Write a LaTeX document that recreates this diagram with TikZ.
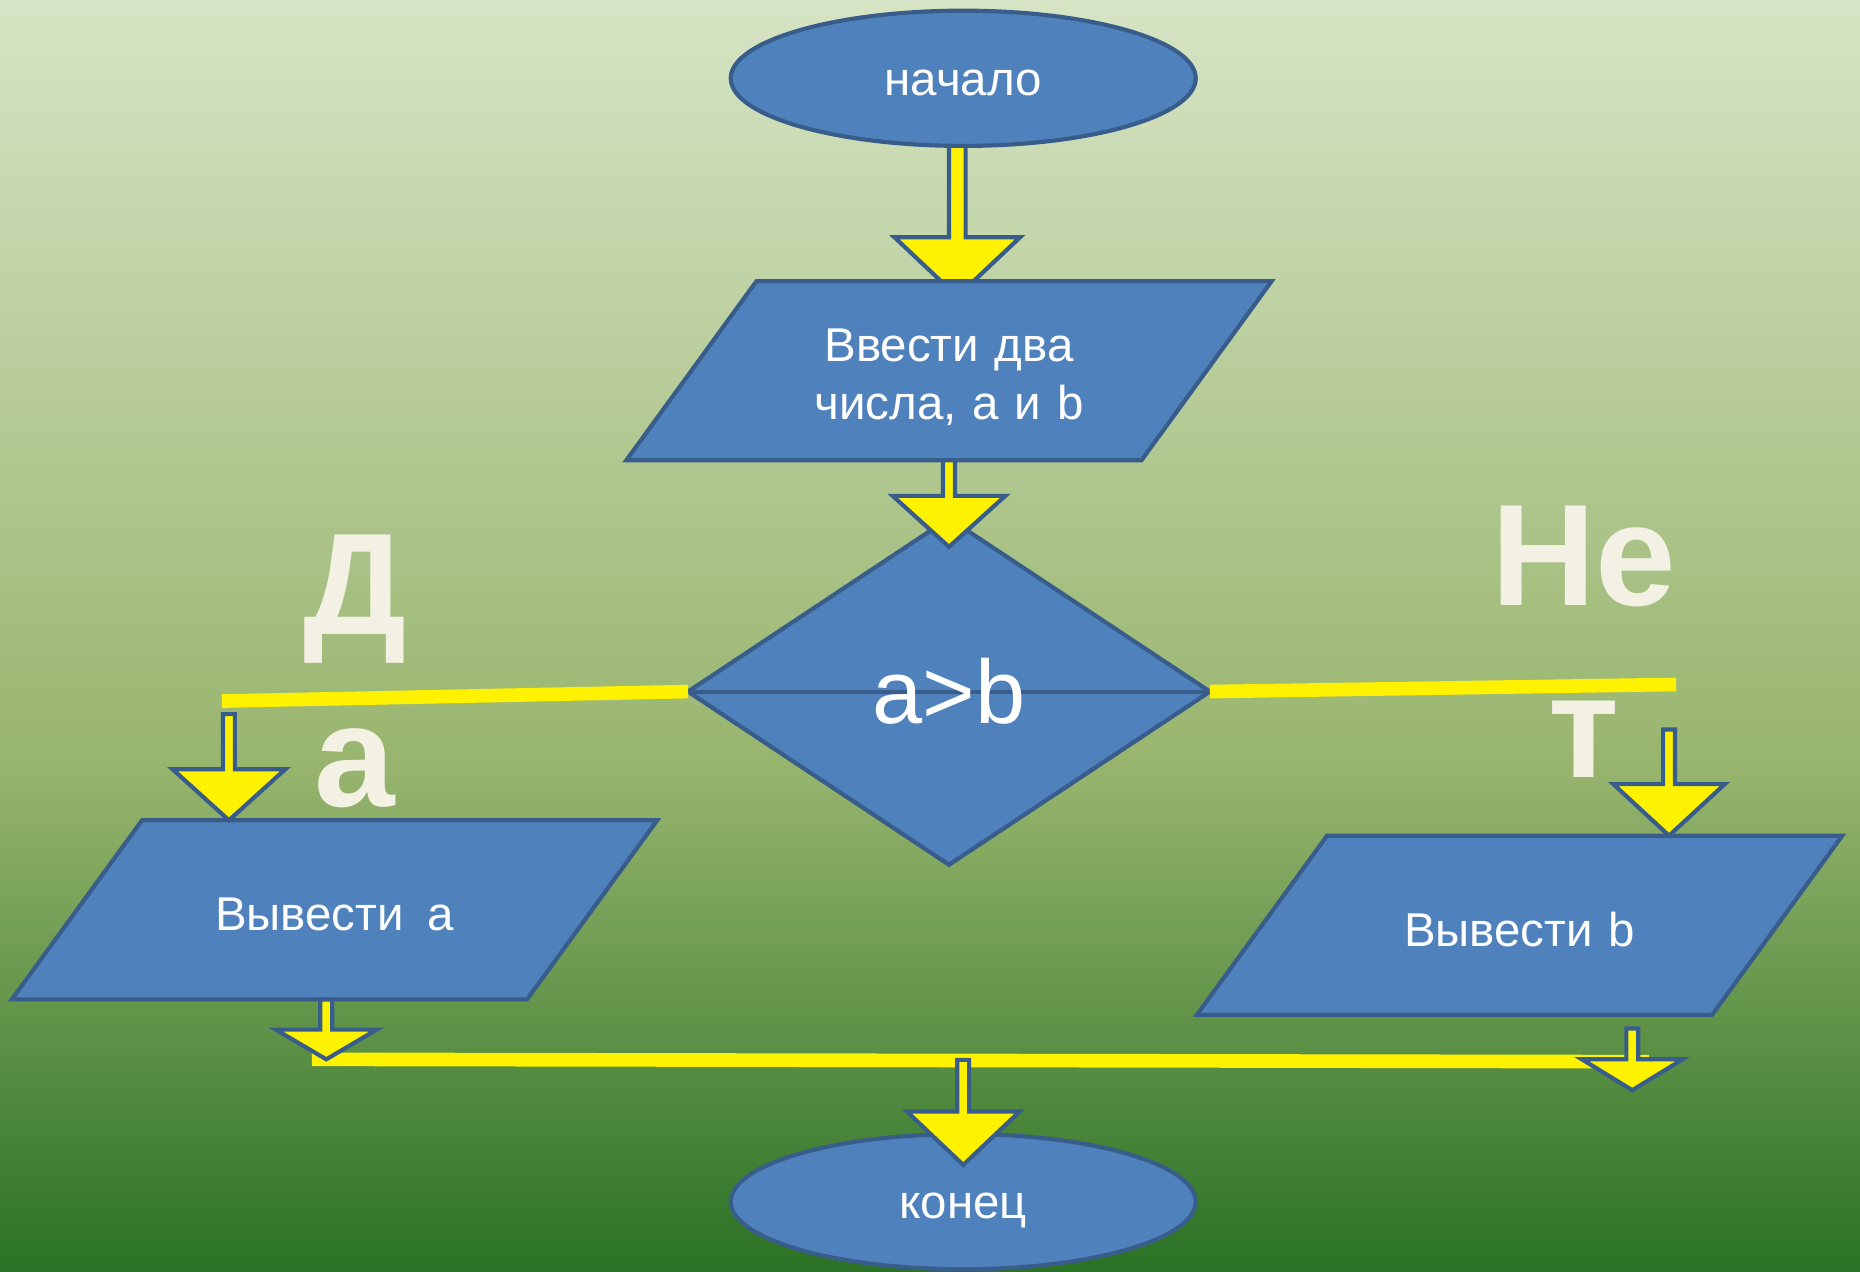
\documentclass[tikz,border=0pt]{standalone}
\usepackage{fontspec}
\setmainfont{Liberation Sans}
\usetikzlibrary{positioning,shapes.geometric,calc}
\pgfdeclarelayer{bg}
\pgfdeclarelayer{under}
\pgfsetlayers{bg,under,main}

\definecolor{bgtop}{RGB}{215,228,197}
\definecolor{bgmid}{RGB}{152,181,110}
\definecolor{bgbot}{RGB}{42,114,37}
\definecolor{shapefill}{HTML}{4F81BD}
\definecolor{shapeline}{HTML}{385D8A}
\definecolor{answertext}{HTML}{F3F0E4}

% block arrow: shaft half width, head half width, head length, from, to
\newcommand\flowarrow[5]{%
  \draw[flow] let \p1=#4, \p2=#5 in
    (\x1-#1*0.5pt,\y1) -- (\x1-#1*0.5pt,\y2+#3*0.5pt) -- (\x1-#2*0.5pt,\y2+#3*0.5pt) -- (\x1,\y2)
    -- (\x1+#2*0.5pt,\y2+#3*0.5pt) -- (\x1+#1*0.5pt,\y2+#3*0.5pt) -- (\x1+#1*0.5pt,\y1) -- cycle;}

\begin{document}
\begin{tikzpicture}
[x=0.5pt,y=-0.5pt,
 every node/.style={draw=shapeline,fill=shapefill,line width=1.75pt,inner sep=0pt,outer sep=0pt,text=white,font=\fontsize{20}{24.5}\selectfont},
 term/.style={ellipse,minimum width=196pt,minimum height=57pt,text height=14.4pt,text depth=0pt},
 io/.style={trapezium,trapezium left angle=54,trapezium right angle=126,text width=162.3pt,align=center},
 cond/.style={diamond,minimum width=220pt,minimum height=146pt,font=\fontsize{38}{40}\selectfont,
   path picture={\draw[shapeline,line width=1.75pt] (path picture bounding box.west) -- (path picture bounding box.east);}},
 answer/.style={draw=none,fill=none,text=answertext,align=center,font=\fontsize{61}{72.5}\selectfont\bfseries},
 yline/.style={yellow,line width=5.75pt},
 flow/.style={fill=yellow,draw=shapeline,line width=1.75pt}]
\path[use as bounding box] (0,0) rectangle (1568,1071.5);
\begin{pgfonlayer}{bg}
\shade[top color=bgtop,bottom color=bgmid] (0,0) rectangle (1568,643);
\shade[top color=bgmid,bottom color=bgbot] (0,642) rectangle (1568,1071.5);
\end{pgfonlayer}

\node[term] (start) at (812,66)                                 {начало};
\node[io,text height=34pt,text depth=41.5pt] (in1) [on grid,below left=123.25pt and 6pt of start] {Ввести два\\числа, а и b};
\node[cond] (dec)   [on grid,below=135.25pt of in1]              {a>b};
\node[io,text height=46.5pt,text depth=29pt] (out1) [on grid,below left=92pt and 259pt of dec]   {Вывести\ \,а};
\node[io,text height=46.5pt,text depth=29pt] (out2) [on grid,below right=98.5pt and 240.5pt of dec] {Вывести b};
\node[term] (end)   [on grid,below right=215pt and 6pt of dec]   {конец};

\node[answer] (yes) [on grid,above left=8.5pt and 250.5pt of dec] {Д\\а};
\node[answer] (no)  [on grid,above right=21pt and 267.5pt of dec] {Не\\т};

\coordinate (yesL)  at (187,591);
\coordinate (noR)   at (1413,577);
\coordinate (joinL) at (263,893);
\coordinate (joinM) at (812,893.5);
\coordinate (joinR) at (1376,895);
\draw[yline] (dec.west) -- (yesL);
\draw[yline] (dec.east) -- (noR);
\draw[yline] (joinL) -- ($(joinR)+(14,0)$);

% the first arrow runs under the input box
\begin{pgfonlayer}{under}
\flowarrow{7}{53}{50}{([xshift=-2.5pt]start.south)}{([yshift=-6.5pt]in1.north)}
\end{pgfonlayer}
\flowarrow{5}{47.5}{43}{(dec.north |- in1.south)}{([yshift=-12pt]dec.north)}
\flowarrow{5}{47.5}{43}{($(yesL)+(6,11)$)}{(out1.north)}
\flowarrow{5}{47}{43.5}{($(noR)+(-6,38)$)}{(out2.north)}
\flowarrow{5}{42.5}{25}{([xshift=-3.5pt]out1.south)}{(joinL)}
\flowarrow{5}{42.5}{26}{($(joinR)+(0,-28)$)}{($(joinR)+(0,24)$)}
\flowarrow{5}{47.5}{45}{(joinM)}{([yshift=-13pt]end.north)}
\end{tikzpicture}
\end{document}
